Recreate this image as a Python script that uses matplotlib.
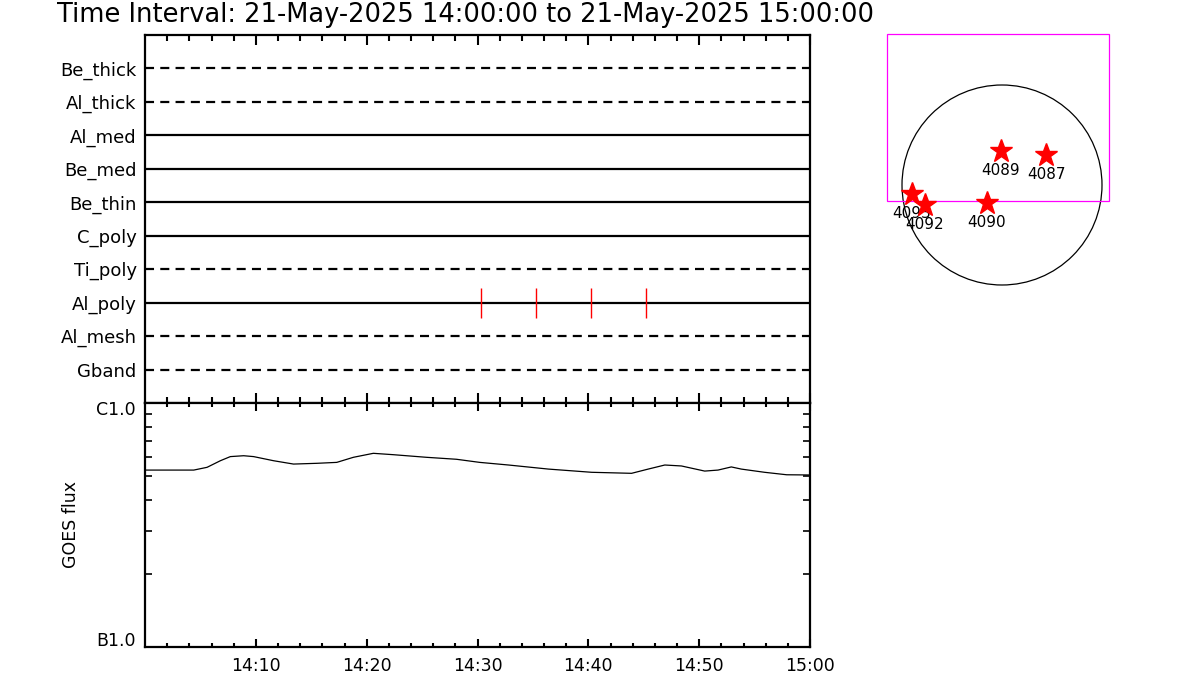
import numpy as np
import matplotlib
matplotlib.use('Agg')
import matplotlib.pyplot as plt
import matplotlib.transforms as mtransforms
from matplotlib.patches import Circle, Rectangle

plt.rcParams['font.family'] = ['DejaVu Sans']
plt.rcParams['lines.scale_dashes'] = False

# Filter channels (top to bottom) and whether the row is dashed
channels = ['Be_thick', 'Al_thick', 'Al_med', 'Be_med', 'Be_thin',
            'C_poly', 'Ti_poly', 'Al_poly', 'Al_mesh', 'Gband']
dashed = [True, True, False, False, False, False, True, False, True, True]

# Observation marks (minutes after 14:00) on Al_poly
obs_channel = 'Al_poly'
obs_minutes = [30.3, 35.3, 40.25, 45.2]

# GOES flux (minutes after 14:00, W/m^2)
goes_minutes = [0.0, 4.4, 5.6, 6.8, 7.7, 8.9, 9.8, 11.6, 13.4, 15.5, 17.3,
                18.8, 20.6, 22.4, 25.4, 28.1, 30.2, 32.8, 36.4, 40.3, 43.9,
                45.4, 46.9, 48.4, 50.5, 51.7, 52.9, 53.8, 55.9, 57.9, 60.0]
goes_flux = [5.31e-7, 5.31e-7, 5.45e-7, 5.80e-7, 6.03e-7, 6.08e-7, 6.03e-7,
             5.80e-7, 5.62e-7, 5.66e-7, 5.71e-7, 5.99e-7, 6.22e-7, 6.14e-7,
             5.99e-7, 5.88e-7, 5.71e-7, 5.57e-7, 5.36e-7, 5.20e-7, 5.15e-7,
             5.36e-7, 5.57e-7, 5.52e-7, 5.26e-7, 5.31e-7, 5.47e-7, 5.36e-7,
             5.20e-7, 5.08e-7, 5.07e-7]

time_ticks = [10, 20, 30, 40, 50, 60]
time_labels = ['14:10', '14:20', '14:30', '14:40', '14:50', '15:00']

# Active regions on the disk (arcsec)
ar_names = ['4089', '4087', '4090', '4093', '4092']
ar_x = [-10, 418, -143, -855, -732]
ar_y = [323, 285, -171, -86, -190]

sun_radius = 950
fov_x = [-1093, 1017]
fov_y = [-152, 1435]

W, H = 1200, 700
fig = plt.figure(figsize=(12, 7), dpi=100)


def px_axes(x0, y0, x1, y1):
    return fig.add_axes([x0 / W, 1 - y1 / H, (x1 - x0) / W, (y1 - y0) / H])


fig.text(57 / W, 1 - 15 / H,
         'Time Interval: 21-May-2025 14:00:00 to 21-May-2025 15:00:00',
         fontsize=18.5, ha='left', va='center')

# ---- top panel: filter rows
ax1 = px_axes(145, 35, 810, 403)
n = len(channels)
rows = np.arange(n, 0, -1)
for name, y, d in zip(channels, rows, dashed):
    if d:
        ax1.plot([0, 60], [y, y], color='black', lw=1.6, dashes=(6.5, 4.5))
    else:
        ax1.plot([0, 60], [y, y], color='black', lw=1.6)
y_obs = rows[channels.index(obs_channel)]
ax1.vlines(obs_minutes, y_obs - 0.45, y_obs + 0.45, color='red', lw=1)
ax1.set_xlim(0, 60)
ax1.set_ylim(0, n + 1)
ax1.set_yticks(rows)
ax1.set_yticklabels(channels, fontsize=13)
ax1.tick_params(axis='y', length=0, pad=6)
ax1.set_xticks(time_ticks)
ax1.set_xticks(np.arange(2, 60, 2), minor=True)
ax1.tick_params(axis='x', which='both', direction='in', top=True, bottom=True,
                labelbottom=False, width=1.5)
ax1.tick_params(axis='x', which='major', length=7)
ax1.tick_params(axis='x', which='minor', length=4)
for s in ax1.spines.values():
    s.set_linewidth(1.6)

# ---- bottom panel: GOES
ax2 = px_axes(145, 403, 810, 647)
ax2.plot(goes_minutes, goes_flux, color='black', lw=0.9)
ax2.set_xlim(0, 60)
ax2.set_yscale('log')
ax2.set_ylim(1e-7, 1e-6)
ax2.set_yticks([1e-7, 1e-6])
ax2.set_yticklabels(['B1.0', 'C1.0'], fontsize=12.5)
ax2.set_yticks([k * 1e-7 for k in range(2, 10)], minor=True)
ax2.set_yticklabels([], minor=True)
ax2.tick_params(axis='y', which='both', direction='in', left=True, right=True,
                width=1.2, pad=7)
ax2.tick_params(axis='y', which='major', length=9)
ax2.tick_params(axis='y', which='minor', length=5)
# class labels sit just inside the panel, as in the original
for lab, dy in zip(ax2.get_yticklabels(), [8, -5]):
    lab.set_transform(lab.get_transform() +
                      mtransforms.ScaledTranslation(0, dy / 100, fig.dpi_scale_trans))
ax2.set_ylabel('GOES flux', fontsize=12.5, labelpad=11)
ax2.set_xticks(time_ticks)
ax2.set_xticklabels(time_labels, fontsize=12.5)
ax2.set_xticks(np.arange(2, 60, 2), minor=True)
ax2.tick_params(axis='x', which='both', direction='in', top=True, bottom=True,
                width=1.5, pad=7)
ax2.tick_params(axis='x', which='major', length=6)
ax2.tick_params(axis='x', which='minor', length=3)
for s in ax2.spines.values():
    s.set_linewidth(1.6)

# ---- right panel: solar disk
scale = 9.5  # arcsec per pixel
cx, cy = 1002, 185
x0, x1, y0, y1 = 880, 1120, 25, 295
ax3 = px_axes(x0, y0, x1, y1)
ax3.set_xlim((x0 - cx) * scale, (x1 - cx) * scale)
ax3.set_ylim((cy - y1) * scale, (cy - y0) * scale)
ax3.axis('off')
ax3.add_patch(Circle((0, 0), sun_radius, fill=False, ec='black', lw=0.9))
ax3.add_patch(Rectangle((fov_x[0], fov_y[0]), fov_x[1] - fov_x[0],
                        fov_y[1] - fov_y[0], fill=False, ec='magenta', lw=0.9))
for i, (name, x, y) in enumerate(zip(ar_names, ar_x, ar_y)):
    ax3.plot(x, y, marker='*', color='red', markersize=17, zorder=5 + 2 * i)
    ax3.annotate(name, (x, y), xytext=(0, -14), textcoords='offset points',
                 ha='center', va='center', fontsize=11, zorder=6 + 2 * i)

fig.savefig('out.png', dpi=100)
